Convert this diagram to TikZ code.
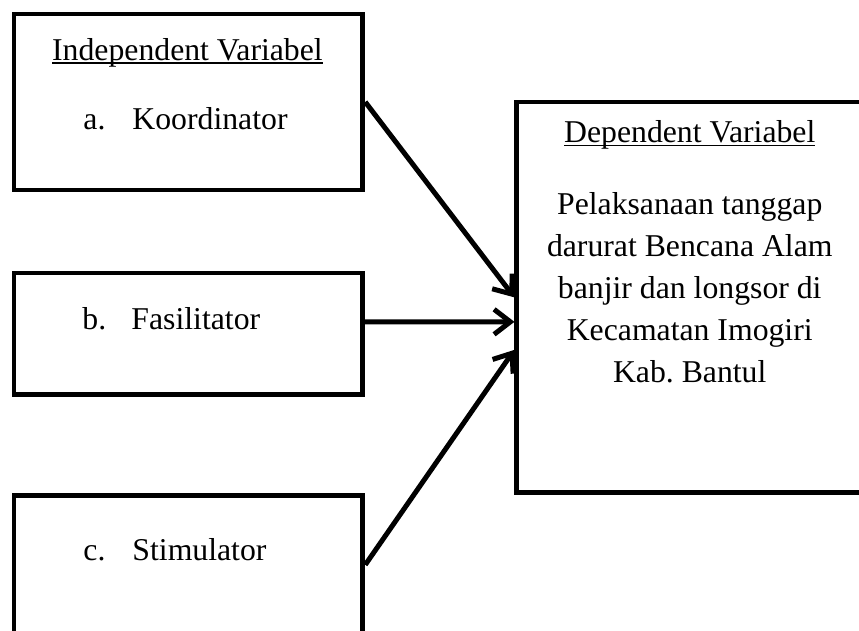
\documentclass[tikz,border=0pt]{standalone}
\usepackage{fontspec}
\setmainfont{Liberation Serif}
\usepackage{tikz}
\usetikzlibrary{arrows.meta,positioning,calc}

\newsavebox{\varbox}
\newcommand{\ulvar}[1]{\sbox{\varbox}{#1}\rlap{\rule[-1.3pt]{\wd\varbox}{0.6pt}}\usebox{\varbox}}

\begin{document}
\begin{tikzpicture}[
    box/.style={rectangle, draw, line width=1.9pt, minimum width=4.906cm, inner sep=0pt},
    txt/.style={inner sep=0pt, anchor=base, font=\fontsize{12.7}{16.8}\selectfont},
    arrow/.style={-{Straight Barb[length=6.5pt,width=10pt]}, line width=2pt}
]
    \useasboundingbox (0,0) rectangle (12.08,-8.86);

    % Independent boxes
    \node[box, minimum height=2.474cm] (kd) at (2.65,-1.434) {};
    \node[box, minimum height=1.715cm] (fs) at (2.65,-4.695) {};
    \node[box, minimum height=1.954cm] (st) at (2.65,-7.943) {};

    % Dependent box
    \node[box, minimum width=4.864cm, minimum height=5.497cm] (dv) at (9.70,-4.182) {};

    % Texts
    \node[txt] (indhead) at (2.636,-0.851) {\ulvar{Independent Variabel}};
    \node[txt, anchor=base west] (ka) at (1.167,-1.828) {\makebox[19.6pt][l]{a.}Koordinator};
    \node[txt, anchor=base west] (fb) at (1.153,-4.639) {\makebox[19.6pt][l]{b.}Fasilitator};
    \node[txt, anchor=base west] (sc) at (1.167,-7.887) {\makebox[19.6pt][l]{c.}Stimulator};
    \node[txt] (dephead) at (9.70,-2.010) {\ulvar{Dependent Variabel}};
    \node[txt, anchor=north, align=center] (depbody) at (9.70,-2.703)
        {Pelaksanaan tanggap\\darurat Bencana Alam\\banjir dan longsor di\\Kecamatan Imogiri\\Kab.\ Bantul};

    % Arrows
    \draw[arrow] (kd.east) -- (dv.west);
    \draw[arrow] ([yshift=0.169cm]fs.east) -- ([yshift=-0.344cm]dv.west);
    \draw[arrow] (st.east) -- ([yshift=-0.738cm]dv.west);
\end{tikzpicture}
\end{document}
